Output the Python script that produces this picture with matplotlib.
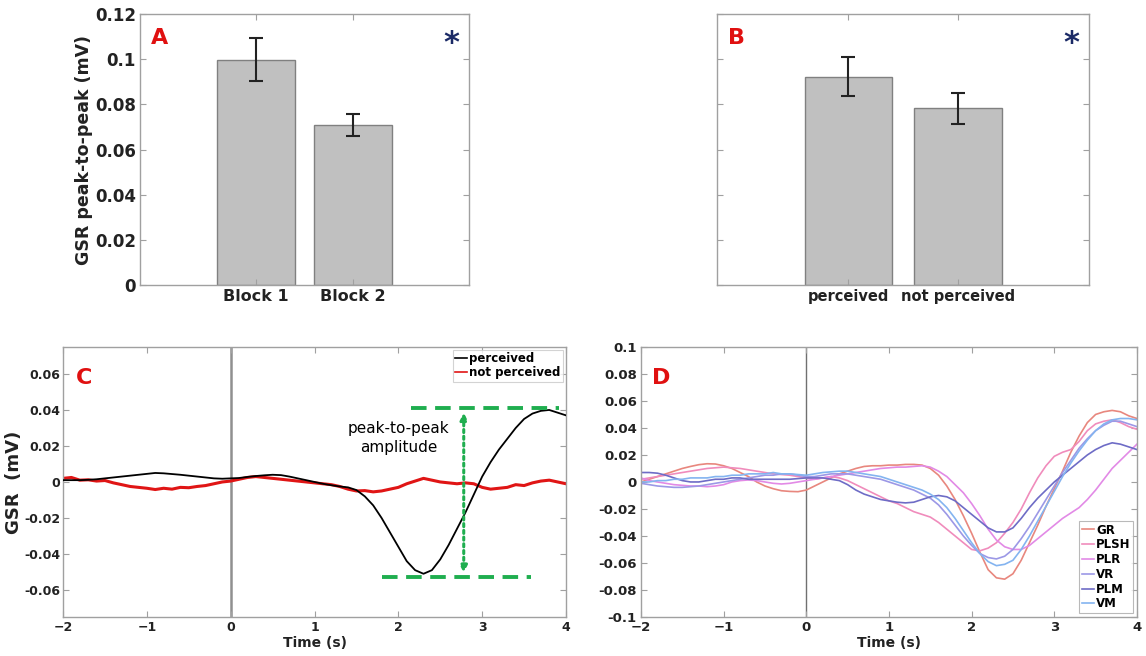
#!/usr/bin/env python3

import numpy as np
import matplotlib
matplotlib.use('Agg')
from matplotlib import pyplot as plt

# panel A / B bar data
blocks = ['Block 1', 'Block 2']
block_mean = [0.0998, 0.0707]
block_lo = [0.0902, 0.0658]
block_hi = [0.1094, 0.0757]

conds = ['perceived', 'not perceived']
cond_mean = [0.0921, 0.0782]
cond_lo = [0.0836, 0.0714]
cond_hi = [0.1008, 0.0852]

# time axis for C and D (s)
t = np.linspace(-2, 4, 61)

# panel C
perceived = [0.001, 0.001, 0.001, 0.0012, 0.0015, 0.002, 0.0025, 0.003, 0.0035, 0.004,
             0.0045, 0.005, 0.0048, 0.0044, 0.004, 0.0035, 0.003, 0.0025, 0.002, 0.0018,
             0.002, 0.0022, 0.0028, 0.0033, 0.0037, 0.004, 0.0038, 0.003, 0.002, 0.001,
             0.0, -0.001, -0.0018, -0.0025, -0.003, -0.0045, -0.008, -0.013, -0.02, -0.028,
             -0.036, -0.044, -0.049, -0.051, -0.049, -0.043, -0.035, -0.026, -0.017, -0.007,
             0.003, 0.011, 0.018, 0.024, 0.03, 0.035, 0.038, 0.0395, 0.04, 0.0385, 0.037]
not_perceived = [0.002, 0.0025, 0.001, 0.0012, 0.0005, 0.0008, -0.0005, -0.0015, -0.0025, -0.003,
                 -0.0035, -0.0042, -0.0035, -0.004, -0.003, -0.0032, -0.0025, -0.002, -0.001, 0.0,
                 0.0005, 0.0015, 0.0025, 0.003, 0.0025, 0.002, 0.0015, 0.001, 0.0005, 0.0,
                 -0.0005, -0.001, -0.0015, -0.0025, -0.004, -0.005, -0.0048, -0.0055, -0.005, -0.004,
                 -0.003, -0.001, 0.0005, 0.002, 0.001, 0.0, -0.0005, -0.001, -0.0005, -0.001,
                 -0.003, -0.004, -0.0035, -0.003, -0.0015, -0.002, -0.0005, 0.0005, 0.001, 0.0, -0.001]
p2p_top = 0.041
p2p_bottom = -0.053

# panel D
gr = [0.0, 0.002, 0.004, 0.006, 0.008, 0.01, 0.0115, 0.0128, 0.0135, 0.0133,
      0.012, 0.01, 0.007, 0.004, 0.0, -0.003, -0.005, -0.0065, -0.007, -0.0072,
      -0.006, -0.003, 0.0, 0.003, 0.006, 0.008, 0.01, 0.0115, 0.012, 0.012,
      0.0125, 0.0125, 0.013, 0.013, 0.0125, 0.01, 0.005, -0.003, -0.013, -0.025,
      -0.038, -0.052, -0.065, -0.071, -0.072, -0.068, -0.058, -0.045, -0.032, -0.018,
      -0.005, 0.008, 0.022, 0.034, 0.044, 0.05, 0.052, 0.053, 0.052, 0.049, 0.047]
plsh = [0.002, 0.003, 0.004, 0.005, 0.006, 0.007, 0.008, 0.009, 0.01, 0.0105,
        0.011, 0.0105, 0.01, 0.009, 0.008, 0.007, 0.006, 0.0055, 0.005, 0.004,
        0.003, 0.002, 0.003, 0.004, 0.003, 0.001, -0.002, -0.005, -0.008, -0.011,
        -0.014, -0.016, -0.019, -0.022, -0.024, -0.026, -0.03, -0.035, -0.04, -0.045,
        -0.05, -0.051, -0.049, -0.045, -0.038, -0.03, -0.02, -0.008, 0.003, 0.012,
        0.019, 0.022, 0.024, 0.03, 0.038, 0.043, 0.045, 0.046, 0.044, 0.041, 0.039]
plr = [0.003, 0.001, 0.0, -0.001, -0.002, -0.0025, -0.003, -0.003, -0.0035, -0.003,
       -0.002, 0.0, 0.001, 0.0015, 0.001, 0.0, -0.001, -0.0015, -0.001, 0.0,
       0.001, 0.002, 0.003, 0.004, 0.005, 0.006, 0.007, 0.008, 0.009, 0.01,
       0.0105, 0.011, 0.011, 0.0115, 0.012, 0.011, 0.008, 0.004, -0.002, -0.008,
       -0.016, -0.025, -0.035, -0.043, -0.048, -0.05, -0.05, -0.047, -0.042, -0.037,
       -0.032, -0.027, -0.023, -0.019, -0.013, -0.006, 0.002, 0.01, 0.016, 0.022, 0.028]
vr = [-0.001, -0.002, -0.003, -0.0035, -0.004, -0.004, -0.0035, -0.003, -0.002, -0.001,
      0.0, 0.001, 0.002, 0.003, 0.004, 0.005, 0.005, 0.006, 0.006, 0.005,
      0.004, 0.004, 0.005, 0.006, 0.006, 0.006, 0.005, 0.004, 0.003, 0.002,
      0.0, -0.002, -0.004, -0.006, -0.009, -0.012, -0.017, -0.024, -0.032, -0.04,
      -0.047, -0.053, -0.056, -0.057, -0.055, -0.05, -0.042, -0.033, -0.023, -0.013,
      -0.003, 0.007, 0.016, 0.025, 0.032, 0.038, 0.042, 0.045, 0.045, 0.043, 0.041]
plm = [0.007, 0.007, 0.0065, 0.005, 0.003, 0.001, 0.0, 0.0, 0.001, 0.002,
       0.002, 0.003, 0.003, 0.002, 0.002, 0.002, 0.002, 0.002, 0.002, 0.0025,
       0.003, 0.003, 0.003, 0.002, 0.001, -0.002, -0.006, -0.009, -0.011, -0.013,
       -0.014, -0.015, -0.0155, -0.015, -0.013, -0.011, -0.01, -0.011, -0.014, -0.019,
       -0.024, -0.029, -0.034, -0.037, -0.037, -0.034, -0.027, -0.019, -0.012, -0.006,
       0.0, 0.005, 0.01, 0.015, 0.02, 0.024, 0.027, 0.029, 0.028, 0.026, 0.024]
vm = [0.0, 0.0, 0.001, 0.001, 0.002, 0.002, 0.003, 0.003, 0.003, 0.004,
      0.004, 0.005, 0.005, 0.006, 0.006, 0.006, 0.007, 0.006, 0.006, 0.0055,
      0.005, 0.006, 0.007, 0.0075, 0.008, 0.008, 0.007, 0.006, 0.005, 0.004,
      0.002, 0.0, -0.002, -0.004, -0.006, -0.009, -0.013, -0.019, -0.027, -0.036,
      -0.045, -0.053, -0.059, -0.062, -0.061, -0.058, -0.05, -0.04, -0.029, -0.018,
      -0.007, 0.004, 0.014, 0.023, 0.031, 0.038, 0.043, 0.046, 0.047, 0.047, 0.046]
d_names = ['GR', 'PLSH', 'PLR', 'VR', 'PLM', 'VM']
d_series = [gr, plsh, plr, vr, plm, vm]
d_colors = ['#e8877e', '#f08cbc', '#e28ae6', '#9c98e6', '#6e6cc6', '#84b4f0']

SPINE = '#a0a0a0'
TXT = '#222222'
RED = '#e01010'
NAVY = '#1b2a66'
GREEN = '#1fae4f'

plt.rcParams['font.family'] = 'DejaVu Sans'
plt.rcParams['font.weight'] = 'bold'


def style(ax, fs):
  for s in ax.spines.values():
    s.set_color(SPINE)
    s.set_linewidth(1.0)
  ax.tick_params(direction='in', top=True, right=True, length=4, width=0.8,
                 color=SPINE, labelcolor=TXT, labelsize=fs, pad=3)
  for lab in ax.get_xticklabels() + ax.get_yticklabels():
    lab.set_fontweight('bold')


def bars(ax, names, mean, lo, hi, ylabels):
  x = np.arange(1, len(names) + 1)
  ax.bar(x, mean, width=0.8, color='#c0c0c0', edgecolor='#808080', linewidth=1.0)
  err = [np.array(mean) - np.array(lo), np.array(hi) - np.array(mean)]
  ax.errorbar(x, mean, yerr=err, fmt='none', ecolor='#222222', elinewidth=1.5,
              capsize=5, capthick=1.5)
  ax.set_xlim(-0.2, 3.2)
  ax.set_ylim(0, 0.12)
  ax.set_xticks(x)
  ax.set_xticklabels(names)
  ax.set_yticks([0, 0.02, 0.04, 0.06, 0.08, 0.1, 0.12])
  if ylabels:
    ax.set_yticklabels(['0', '0.02', '0.04', '0.06', '0.08', '0.1', '0.12'])
  else:
    ax.set_yticklabels([])


fig = plt.figure(figsize=(11.46, 6.56), dpi=100)

# A
axA = fig.add_axes([0.1222, 0.5655, 0.2871, 0.4131])
bars(axA, blocks, block_mean, block_lo, block_hi, True)
style(axA, 12)
axA.tick_params(axis='x', labelsize=11.5)
axA.set_ylabel('GSR peak-to-peak (mV)', fontsize=12.5, fontweight='bold', color=TXT)
axA.yaxis.set_label_coords(-0.142, 0.5)
axA.text(0.06, 0.91, 'A', transform=axA.transAxes, color=RED, fontsize=16,
         fontweight='bold', ha='center', va='center')
axA.text(0.945, 0.89, '*', transform=axA.transAxes, color=NAVY, fontsize=22,
         fontweight='bold', ha='center', va='center')

# B
axB = fig.add_axes([0.6257, 0.5655, 0.3246, 0.4131])
bars(axB, conds, cond_mean, cond_lo, cond_hi, False)
style(axB, 10.5)
axB.text(0.053, 0.91, 'B', transform=axB.transAxes, color=RED, fontsize=16,
         fontweight='bold', ha='center', va='center')
axB.text(0.952, 0.89, '*', transform=axB.transAxes, color=NAVY, fontsize=22,
         fontweight='bold', ha='center', va='center')

# C
axC = fig.add_axes([0.055, 0.0595, 0.4389, 0.4116])
axC.axvline(0, color='#909090', linewidth=1.8, zorder=1)
axC.plot(t, perceived, color='black', linewidth=1.3, label='perceived', zorder=3)
axC.plot(t, not_perceived, color='#e01515', linewidth=2.2, label='not perceived', zorder=2)
axC.plot([2.15, 3.92], [p2p_top, p2p_top], color=GREEN, linewidth=2.8,
         dashes=(4, 2.2), zorder=4)
axC.plot([1.81, 3.58], [p2p_bottom, p2p_bottom], color=GREEN, linewidth=2.8,
         dashes=(4, 2.2), zorder=4)
axC.annotate('', xy=(2.78, p2p_bottom + 0.0025), xytext=(2.78, p2p_top - 0.0025),
             arrowprops=dict(arrowstyle='<|-|>', color=GREEN, linestyle=(0, (1, 1.2)),
                             linewidth=2.2, mutation_scale=10, shrinkA=0, shrinkB=0),
             zorder=4)
axC.text(2.0, 0.0245, 'peak-to-peak\namplitude', fontsize=11, fontweight='normal',
         color='black', ha='center', va='center', linespacing=1.3)
axC.set_xlim(-2, 4)
axC.set_ylim(-0.075, 0.075)
axC.set_xticks([-2, -1, 0, 1, 2, 3, 4])
axC.set_yticks([-0.06, -0.04, -0.02, 0, 0.02, 0.04, 0.06])
axC.set_yticklabels(['-0.06', '-0.04', '-0.02', '0', '0.02', '0.04', '0.06'])
style(axC, 9)
axC.tick_params(axis='y', pad=2)
axC.set_xlabel('Time (s)', fontsize=10, fontweight='bold', color=TXT, labelpad=1)
axC.set_ylabel('GSR  (mV)', fontsize=13, fontweight='bold', color=TXT)
axC.yaxis.set_label_coords(-0.08, 0.5)
axC.text(0.042, 0.885, 'C', transform=axC.transAxes, color=RED, fontsize=16,
         fontweight='bold', ha='center', va='center')
leg = axC.legend(loc='upper right', handlelength=1.0, handletextpad=0.2,
                 borderpad=0.2, borderaxespad=0.25, labelspacing=0.1, frameon=True,
                 fancybox=False, prop={'weight': 'bold', 'size': 8.5})
leg.get_frame().set_edgecolor('#c8c8c8')
leg.get_frame().set_linewidth(0.8)
for line in leg.get_lines():
  line.set_linewidth(1.2)

# D
axD = fig.add_axes([0.5593, 0.0595, 0.4328, 0.4116])
axD.axvline(0, color='#707070', linewidth=1.0, zorder=1)
for name, vals, col in zip(d_names, d_series, d_colors):
  axD.plot(t, vals, color=col, linewidth=1.2, label=name)
axD.set_xlim(-2, 4)
axD.set_ylim(-0.1, 0.1)
axD.set_xticks([-2, -1, 0, 1, 2, 3, 4])
axD.set_yticks(np.arange(-0.1, 0.101, 0.02))
axD.set_yticklabels(['-0.1', '-0.08', '-0.06', '-0.04', '-0.02', '0',
                     '0.02', '0.04', '0.06', '0.08', '0.1'])
style(axD, 9.5)
axD.set_xlabel('Time (s)', fontsize=10, fontweight='bold', color=TXT, labelpad=1)
axD.text(0.04, 0.885, 'D', transform=axD.transAxes, color=RED, fontsize=16,
         fontweight='bold', ha='center', va='center')
leg = axD.legend(loc='lower right', handlelength=1.0, handletextpad=0.2,
                 borderpad=0.25, borderaxespad=0.3, labelspacing=0.15, frameon=True,
                 fancybox=False, prop={'weight': 'bold', 'size': 8.5})
leg.get_frame().set_edgecolor('#a8a8a8')
leg.get_frame().set_linewidth(0.8)

plt.savefig('out.png', dpi=100)
